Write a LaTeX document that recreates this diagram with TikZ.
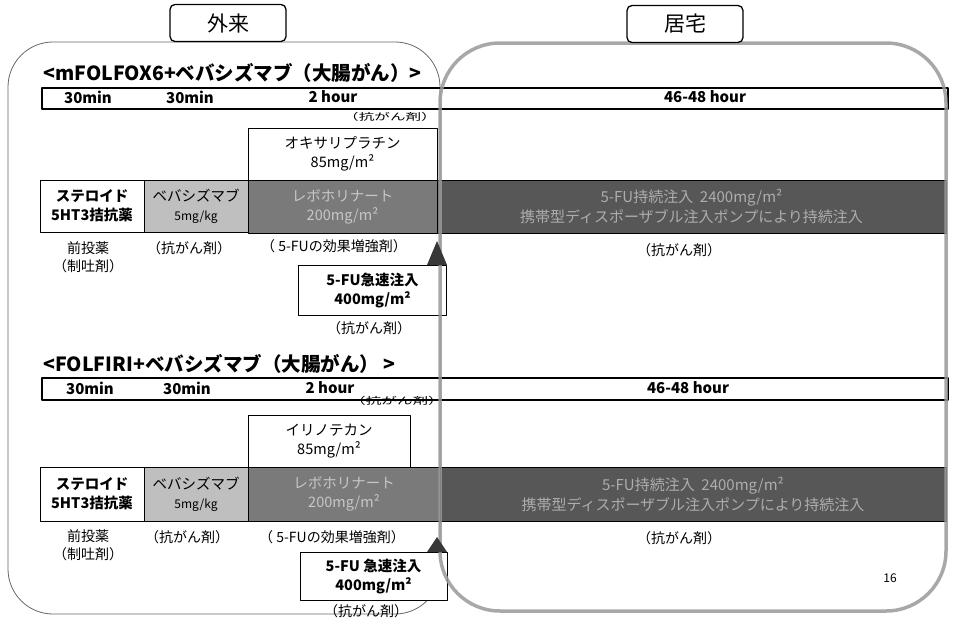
\documentclass[tikz,border=0pt]{standalone}
\usepackage{fontspec}
\setmainfont{Noto Sans CJK JP}
\begin{document}
\begin{tikzpicture}[x=1pt,y=-1pt,line join=round,
  tab/.style={draw,fill=white,line width=1.3pt,rounded corners=5pt,minimum width=116pt,minimum height=37pt,font=\fontsize{21}{24}\selectfont},
  head/.style={anchor=west,font=\bfseries\fontsize{19.5}{22}\selectfont},
  bar/.style={draw,line width=1.3pt,minimum width=906pt,inner sep=0pt},
  tm/.style={font=\bfseries\fontsize{15}{17}\selectfont},
  box/.style={draw,line width=1pt,inner sep=0pt,align=center,font=\fontsize{14.5}{19}\selectfont},
  lbl/.style={align=center,font=\fontsize{14}{18}\selectfont},
  sm/.style={font=\fontsize{12}{13}\selectfont}]
\useasboundingbox (0,0) rectangle (953,621);
% outpatient frame
\draw[black!60,line width=.8pt,rounded corners=45pt] (8,42) rectangle (440,614);

% mFOLFOX6
\node[head] (title1) at (40,73) {<mFOLFOX6+ベバシズマブ（大腸がん）>};
\node[bar,minimum height=21pt] (bar1) at (495,98.5) {};
\foreach \n/\x/\t in {a/88/30min,b/190/30min,c/333/2 hour,d/705/46-48 hour}
  \node[tm] (t1\n) at (\x,97) {\t};
\node[sm] (c1) at (390,117) {\scalebox{1.3}[.8]{（抗がん剤）}};
\node[box,minimum width=189pt,minimum height=52pt] (oxa1) at (342.5,154) {オキサリプラチン\\85mg/m²};
\node[box,font=\bfseries\fontsize{14.5}{19}\selectfont,minimum width=104pt,minimum height=52pt] (ster1) at (92,206) {ステロイド\\5HT3拮抗薬};
\node[box,fill=black!25,minimum width=104pt,minimum height=52pt] (beva1) at (196,206) {ベバシズマブ\\{\fontsize{12}{14}\selectfont 5mg/kg}};
\node[box,fill=black!52,text=black!22,minimum width=189pt,minimum height=53pt] (levo1) at (342.5,206.5) {レボホリナート\\200mg/m²};
\node[box,fill=black!66,text=black!32,minimum width=509pt,minimum height=53pt,font=\fontsize{15}{20}\selectfont] (fu1) at (691.5,206.5) {5-FU持続注入\ \ 2400mg/m²\\携帯型ディスポーザブル注入ポンプにより持続注入};
\node[lbl] (pre1) at (88,257) {前投薬\\（制吐剤）};
\node[lbl] (l1b) at (189,248) {（抗がん剤）};
\node[lbl] (l1c) at (334,246) {（ 5-FUの効果増強剤）};
\node[lbl] (l1d) at (679,250) {（抗がん剤）};
\node[box,fill=white,font=\bfseries\fontsize{14.5}{19}\selectfont,minimum width=148pt,minimum height=50pt] (bol1) at (372.5,290) {5-FU急速注入\\400mg/m²};
\node[lbl] (l1e) at (369,328) {（抗がん剤）};

% FOLFIRI
\node[head] (title2) at (40,364) {<FOLFIRI+ベバシズマブ（大腸がん） >};
\node[bar,minimum height=22pt] (bar2) at (495,389) {};
\foreach \n/\x/\t in {a/90/30min,b/187/30min,c/330/2 hour,d/688/46-48 hour}
  \node[tm] (t2\n) at (\x,388) {\t};
\node[sm] (c2) at (397,401) {\scalebox{1.3}[.8]{（抗がん剤）}};
\node[box,minimum width=162pt,minimum height=52pt] (iri2) at (329,441) {イリノテカン\\85mg/m²};
\node[box,font=\bfseries\fontsize{14.5}{19}\selectfont,minimum width=104pt,minimum height=54pt] (ster2) at (92,494) {ステロイド\\5HT3拮抗薬};
\node[box,fill=black!25,minimum width=104pt,minimum height=54pt] (beva2) at (196,494) {ベバシズマブ\\{\fontsize{12}{14}\selectfont 5mg/kg}};
\node[box,fill=black!52,text=black!22,minimum width=192pt,minimum height=54pt] (levo2) at (344,494) {レボホリナート\\200mg/m²};
\node[box,fill=black!66,text=black!32,minimum width=506pt,minimum height=54pt,font=\fontsize{15}{20}\selectfont] (fu2) at (693,494) {5-FU持続注入\ \ 2400mg/m²\\携帯型ディスポーザブル注入ポンプにより持続注入};
\node[lbl] (pre2) at (88,545) {前投薬\\（制吐剤）};
\node[lbl] (l2b) at (187,537) {（抗がん剤）};
\node[lbl] (l2c) at (332,537) {（ 5-FUの効果増強剤）};
\node[lbl] (l2d) at (679,538) {（抗がん剤）};
\node[box,fill=white,font=\bfseries\fontsize{14.5}{19}\selectfont,minimum width=147pt,minimum height=48pt] (bol2) at (373.5,576) {5-FU 急速注入\\400mg/m²};
\node[lbl] (l2e) at (366,611) {（抗がん剤）};
\node[sm] (page) at (890,578) {16};

% home frame
\draw[black!40,draw opacity=.85,line width=3.5pt,rounded corners=60pt] (440,43) rectangle (946,611);
\fill[black!78] (437,241) -- (447,265) -- (427,265) -- cycle;
\fill[black!78] (437,537) -- (447,552) -- (427,552) -- cycle;
\node[tab] (gairai) at (228,23) {外来};
\node[tab] (kyotaku) at (685,24) {居宅};
\end{tikzpicture}
\end{document}
